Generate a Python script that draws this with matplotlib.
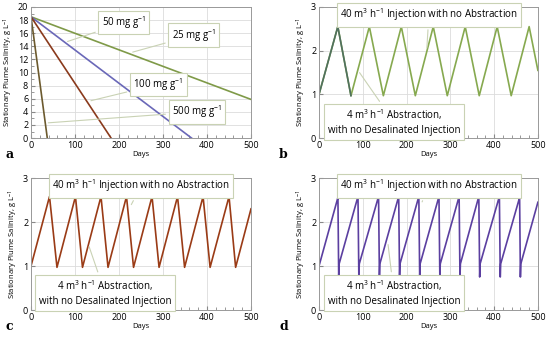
import matplotlib.pyplot as plt
import numpy as np
from matplotlib.ticker import MultipleLocator

# panel a: linear decline of salinity for different sorbent doses
dose_labels = ['25 mg g$^{-1}$', '50 mg g$^{-1}$', '100 mg g$^{-1}$', '500 mg g$^{-1}$']
dose_days = [[0, 500], [0, 365], [0, 182], [0, 37]]
dose_sal = [[18.5, 5.9], [18.5, 0], [18.5, 0], [18.5, 0]]
dose_colors = ['#7f9a48', '#6a68b8', '#8a3a1c', '#6c5a2e']

# panel b: triangular cycle
b_days = [0, 43, 73, 115, 147, 188, 220, 261, 293, 334, 366, 407, 439, 480, 500]
b_sal = [1.0, 2.55, 0.97, 2.55, 0.97, 2.55, 0.97, 2.55, 0.97, 2.55, 0.97, 2.55, 0.97, 2.55, 1.55]

# panel c: sawtooth
c_days = [0, 42, 59, 101, 117, 159, 175, 217, 233, 275, 291, 333, 349, 391, 407, 450, 465, 500]
c_sal = [1.0, 2.58, 0.97, 2.58, 0.97, 2.58, 0.97, 2.58, 0.97, 2.58, 0.97, 2.58, 0.97, 2.58, 0.97, 2.58, 0.97, 2.3]

# panel d: sawtooth with short spikes
d_days = [0, 43, 43, 45, 46,
          89, 89, 91, 92,
          136, 136, 138, 139,
          182, 182, 184, 185,
          228, 228, 230, 231,
          274, 274, 276, 277,
          320, 320, 322, 323,
          365, 365, 367, 368,
          412, 412, 414, 415,
          458, 458, 460, 461,
          500]
d_sal = [1.0, 2.55, 2.8, 0.75, 1.05,
         2.58, 2.62, 0.75, 1.05,
         2.58, 2.62, 0.75, 1.05,
         2.58, 2.62, 0.75, 1.05,
         2.58, 2.62, 0.75, 1.05,
         2.58, 2.62, 0.75, 1.05,
         2.58, 2.62, 0.75, 1.05,
         2.58, 2.62, 0.75, 1.05,
         2.58, 2.62, 0.75, 1.05,
         2.55, 2.8, 0.75, 1.05,
         2.45]

inj_text = '40 m$^3$ h$^{-1}$ Injection with no Abstraction'
abs_text = '4 m$^3$ h$^{-1}$ Abstraction,\nwith no Desalinated Injection'

plt.rcParams['font.family'] = 'Open Sans'
plt.rcParams['mathtext.fontset'] = 'custom'
plt.rcParams['mathtext.rm'] = 'Open Sans'
plt.rcParams['mathtext.it'] = 'Open Sans'

fig = plt.figure(figsize=(5.5, 3.41), dpi=100)
ax_a = fig.add_axes([0.0564, 0.595, 0.4, 0.3846])
ax_b = fig.add_axes([0.58, 0.595, 0.398, 0.3846])
ax_c = fig.add_axes([0.0564, 0.0909, 0.4, 0.387])
ax_d = fig.add_axes([0.58, 0.0909, 0.398, 0.387])

box = dict(boxstyle='square,pad=0.35', fc='white', ec='#c9d2b4', lw=0.8)
arrow = dict(arrowstyle='-', color='#c9d2b4', lw=0.8)


def style(ax, ymax, ymajor, yminor=None):
    ax.set_xlim(0, 500)
    ax.set_ylim(0, ymax)
    ax.xaxis.set_major_locator(MultipleLocator(100))
    ax.xaxis.set_minor_locator(MultipleLocator(20))
    ax.yaxis.set_major_locator(MultipleLocator(ymajor))
    if yminor:
        ax.yaxis.set_minor_locator(MultipleLocator(yminor))
    ax.grid(True, which='major', color='#dcdcdc', lw=0.6)
    ax.set_axisbelow(True)
    ax.tick_params(which='both', direction='in', labelsize=6.5, color='#888888', pad=2)
    ax.tick_params(which='major', length=3)
    ax.tick_params(which='minor', length=2)
    for s in ax.spines.values():
        s.set_color('#999999')
        s.set_linewidth(0.7)
    ax.set_xlabel('Days', fontsize=5.5, labelpad=1)
    ax.set_ylabel('Stationary Plume Salinity, g L$^{-1}$', fontsize=5.5, labelpad=2)


def note(ax, text, xy, xytext):
    ax.annotate(text, xy=xy, xytext=xytext, fontsize=7, ha='center', va='center',
                bbox=box, arrowprops=arrow, linespacing=1.4, zorder=5)


# a
for days, sal, col in zip(dose_days, dose_sal, dose_colors):
    ax_a.plot(days, sal, color=col, lw=1.2)
style(ax_a, 20, 2, 1)
note(ax_a, dose_labels[1], (77, 14.6), (211, 17.6))
note(ax_a, dose_labels[0], (225, 13.0), (370, 15.7))
note(ax_a, dose_labels[2], (130, 5.6), (289, 8.2))
note(ax_a, dose_labels[3], (33, 2.3), (377, 4.0))

# b
ax_b.plot(b_days, b_sal, color='#86a94f', lw=1.2)
ax_b.plot(b_days[:3], b_sal[:3], color='#50705f', lw=1.2)
style(ax_b, 3, 1)
note(ax_b, inj_text, (246, 2.0), (251, 2.82))
note(ax_b, abs_text, (89, 1.55), (171, 0.37))

# c
ax_c.plot(c_days, c_sal, color='#9a3b16', lw=1.2)
style(ax_c, 3, 1)
note(ax_c, inj_text, (225, 2.34), (250, 2.82))
note(ax_c, abs_text, (130, 1.5), (168, 0.39))

# d
ax_d.plot(d_days, d_sal, color='#5b3fa0', lw=1.2)
style(ax_d, 3, 1)
note(ax_d, inj_text, (233, 2.4), (251, 2.82))
note(ax_d, abs_text, (157, 1.55), (171, 0.39))

# panel letters
for x, y, s in [(5, 1 - 158 / 341, 'a'), (279, 1 - 158 / 341, 'b'),
                (5, 1 - 330 / 341, 'c'), (279, 1 - 330 / 341, 'd')]:
    fig.text(x / 550, y, s, fontsize=9, fontweight='bold', family='DejaVu Serif')

fig.savefig('out.png', dpi=100)
